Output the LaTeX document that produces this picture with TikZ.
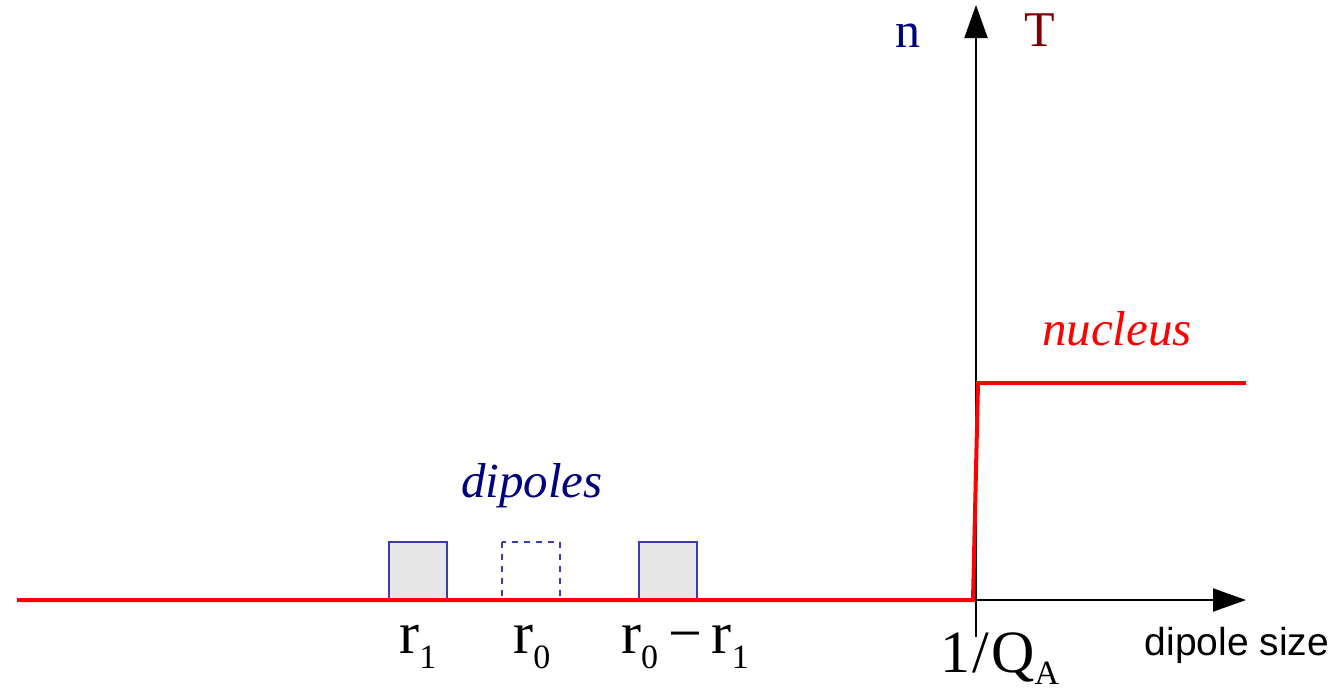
\documentclass[tikz,border=0pt]{standalone}
\usepackage{fontspec}
\setmainfont{Liberation Serif}
\newfontfamily\labsans{Liberation Sans}
\usetikzlibrary{arrows.meta}
\definecolor{navyc}{RGB}{0,0,128}
\definecolor{darkredc}{RGB}{128,0,0}
\definecolor{boxblue}{RGB}{60,60,170}
\definecolor{boxfill}{RGB}{230,230,230}
\newcommand{\rsub}[2]{#1\raisebox{-0.25em}{\fontsize{17}{17}\selectfont #2}}
\newcommand{\qsub}[2]{#1\raisebox{-0.2em}{\fontsize{17}{17}\selectfont #2}}
\tikzset{
  axis/.style={line width=1pt,-{Triangle[length=16.5pt,width=11.5pt]}},
  curve/.style={red,line width=2pt},
  dbox/.style={draw=boxblue,fill=boxfill,line width=0.7pt},
  dboxdash/.style={draw=boxblue,dashed,line width=0.7pt},
  rlab/.style={anchor=base,inner sep=0pt,font=\fontsize{30}{30}\selectfont},
  axlab/.style={anchor=base,inner sep=0pt,font=\fontsize{25}{25}\selectfont},
  itlab/.style={anchor=base,inner sep=0pt,font=\fontsize{24.5}{24.5}\selectfont\itshape},
}
\begin{document}
\begin{tikzpicture}[x=0.5pt,y=-0.5pt]
\useasboundingbox (0,0) rectangle (1344,691);
% axes
\coordinate (vbot) at (976,637);
\coordinate (vtop) at (976,5);
\coordinate (horig) at (976,600);
\coordinate (hend) at (1246,600);
\draw[axis] (vbot) -- (vtop);
\draw[axis] (horig) -- (hend);
% boxes
\draw[dbox] (389,542) rectangle (447,600);
\draw[dboxdash] (502,542) rectangle (560,600);
\draw[dbox] (639,542) rectangle (697,600);
% red curve
\coordinate (c0) at (17,600);
\coordinate (c1) at (973,600);
\coordinate (c2) at (978,383);
\coordinate (c3) at (1246,383);
\draw[curve,line join=miter] (c0) -- (c1) -- (c2) -- (c3);
% labels
\node[axlab,text=navyc] (nlab) at (908,47) {n};
\node[axlab,text=darkredc] (tlab) at (1040,46) {T};
\node[itlab,text=navyc] (dip) at (532,497) {dipoles};
\node[itlab,text=red] (nuc) at (1117,345) {nucleus};
\node[rlab] (r1) at (418,653) {\rsub{r}{1}};
\node[rlab] (r0) at (532,653) {\rsub{r}{0}};
\node[rlab] (r01) at (685,653) {\rsub{r}{0}\,−\,\rsub{r}{1}};
\node[rlab] (qa) at (1000,672) {1\kern1pt/\kern1pt\qsub{Q}{A}};
\node[anchor=base,inner sep=0pt,font=\labsans\fontsize{19.5}{19.5}\selectfont] (ds) at (1237,655) {dipole size};
\end{tikzpicture}
\end{document}
